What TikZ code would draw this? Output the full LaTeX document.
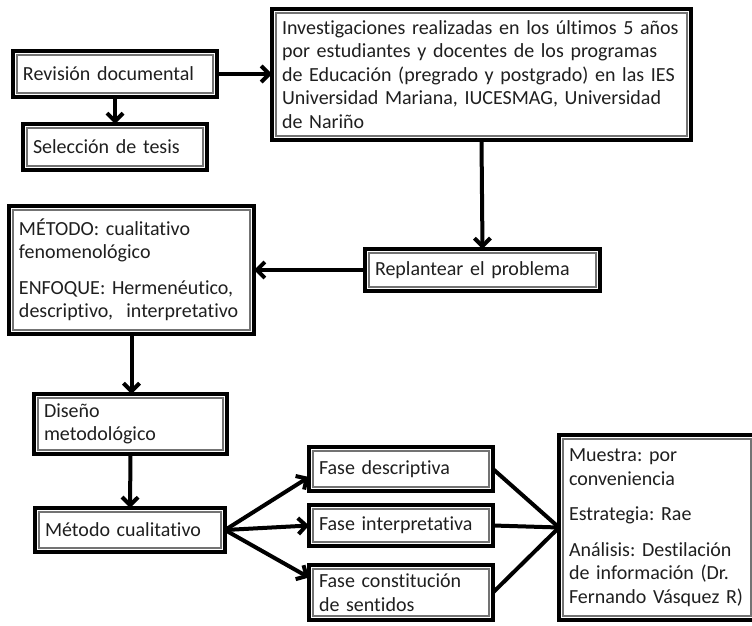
\documentclass[tikz,border=0pt]{standalone}
\usepackage{fontspec}
\setmainfont{Carlito}[Ligatures={NoCommon,NoRequired,NoContextual}]
\usetikzlibrary{arrows.meta}
\frenchspacing
\tikzset{
  box/.style={draw=black, line width=4pt, fill=white, outer sep=0pt,
    inner xsep=10pt, inner ysep=0pt, align=left, text=black!88,
    font=\fontsize{20}{23.5}\selectfont,
    path picture={\draw[line width=1.2pt, black!55]
      ([xshift=4pt,yshift=-4pt]path picture bounding box.north west) rectangle
      ([xshift=-4pt,yshift=4pt]path picture bounding box.south east);}},
  arr/.style={line width=4pt, -{Straight Barb[length=8pt,width=16pt]}},
  ln/.style={line width=4pt}
}
\begin{document}
\begin{tikzpicture}[x=1pt,y=-1pt]
\clip (0,0) rectangle (752,626);
\fill[white] (0,0) rectangle (752,626);

\node[box, minimum width=204pt, minimum height=46pt, text width=184pt] (rev) at (115,74) {Revisión documental};
\node[box, minimum width=184pt, minimum height=46pt, text width=164pt] (sel) at (115,147) {Selección de tesis};
\node[box, minimum width=419pt, minimum height=131pt, text width=399pt] (inv) at (481.5,74.5)
  {Investigaciones realizadas en los últimos 5 años\\por estudiantes y docentes de los programas\\de Educación (pregrado y postgrado) en las IES\\Universidad Mariana, IUCESMAG, Universidad\\de Nariño};
\node[box, minimum width=235pt, minimum height=42pt, text width=215pt] (rep) at (482.5,270) {Replantear el problema};
\node[box, minimum width=245pt, minimum height=128pt, text width=225pt] (met) at (131.5,270)
  {MÉTODO: cualitativo\\fenomenológico\\[12pt]ENFOQUE: Hermenéutico,\\descriptivo,\ \ interpretativo};
\node[box, minimum width=193pt, minimum height=60pt, text width=173pt] (dis) at (130.5,424) {Diseño\\metodológico};
\node[box, minimum width=190pt, minimum height=44pt, text width=170pt] (mc) at (130,530) {Método cualitativo};
\node[box, minimum width=184pt, minimum height=44pt, text width=164pt] (fd) at (401,469) {Fase descriptiva};
\node[box, minimum width=184pt, minimum height=41pt, text width=164pt] (fi) at (401,525.5) {Fase interpretativa};
\node[box, minimum width=184pt, minimum height=55pt, text width=164pt] (fc) at (401,592.5) {Fase constitución\\de sentidos};
\node[box, minimum width=196pt, minimum height=185pt, text width=176pt] (res) at (657,527.5)
  {Muestra: por\\conveniencia\\[12pt]Estrategia: Rae\\[12pt]Análisis: Destilación\\de información (Dr.\\Fernando Vásquez R)};

\draw[arr] (rev.south) -- (sel.north);
\draw[arr] (rev.east) -- (inv.west |- rev.east);
\draw[arr] (inv.south) -- (rep.north);
\draw[arr] (rep.west) -- (met.east);
\draw[arr] (met.south) -- (met.south |- dis.north);
\draw[arr] (dis.south) -- (mc.north);
\draw[arr] (mc.east) -- ([yshift=-8pt]fd.west);
\draw[arr] (mc.east) -- (fi.west);
\draw[arr] (mc.east) -- ([yshift=15pt]fc.west);
\draw[ln] (fd.east) -- (res.west);
\draw[ln] (fi.east) -- (res.west);
\draw[ln] (fc.east) -- (res.west);
\end{tikzpicture}
\end{document}
